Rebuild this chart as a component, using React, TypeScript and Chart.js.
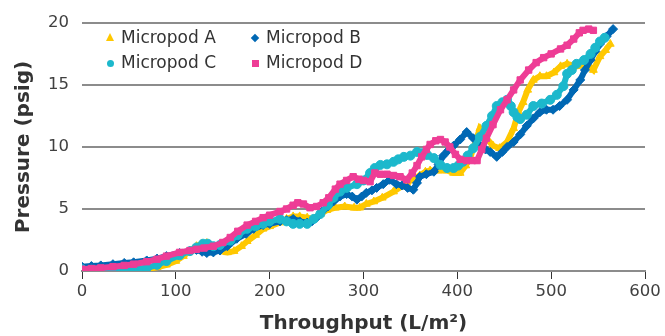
import React, { useEffect, useRef } from "react";
import { Chart, registerables } from "chart.js";

Chart.register(...registerables);

const SERIES_NAMES = ["Micropod A", "Micropod B", "Micropod C", "Micropod D"];
const COLORS = ["#FFC800", "#0068B4", "#1CB8CC", "#EE3D96"];
const X_TICKS = [0, 100, 200, 300, 400, 500, 600];
const Y_TICKS = [0, 5, 10, 15, 20];

const aX = [0, 10, 20, 30, 40, 50, 60, 70, 80, 90, 100, 108, 115, 122, 128, 133, 140, 147, 155, 162, 170, 176, 185, 193, 200, 211, 218, 225, 232, 240, 247, 254, 261, 270, 280, 290, 296, 303, 311, 320, 332, 340, 346, 353, 360, 366, 371, 380, 389, 396, 403, 409, 414, 419, 424, 428, 431, 438, 445, 453, 460, 465, 470, 475, 481, 488, 495, 503, 510, 517, 527, 533, 538, 545, 552, 558, 563];
const aY = [0.0, 0.0, 0.0, 0.05, 0.05, 0.1, 0.1, 0.15, 0.3, 0.5, 0.8, 1.2, 1.6, 2.0, 2.2, 2.25, 1.9, 1.6, 1.5, 1.6, 2.0, 2.4, 2.9, 3.4, 3.6, 3.9, 4.2, 4.4, 4.4, 4.3, 4.2, 4.6, 4.9, 5.1, 5.2, 5.1, 5.1, 5.4, 5.6, 5.9, 6.4, 6.8, 7.1, 7.4, 7.7, 8.0, 8.1, 8.1, 8.1, 7.9, 7.9, 8.5, 9.2, 10.3, 11.5, 11.2, 10.7, 10.1, 9.9, 10.4, 11.5, 12.8, 13.6, 14.6, 15.4, 15.7, 15.7, 16.0, 16.5, 16.7, 16.5, 16.6, 16.7, 16.2, 17.3, 17.8, 18.3];

const bX = [0, 10, 20, 33, 45, 55, 69, 80, 90, 104, 115, 122, 128, 133, 140, 147, 155, 165, 175, 183, 193, 200, 211, 218, 225, 232, 240, 245, 250, 256, 262, 268, 275, 282, 288, 293, 298, 303, 309, 314, 321, 328, 335, 341, 347, 353, 357, 360, 367, 375, 380, 385, 390, 396, 403, 410, 417, 423, 430, 435, 442, 448, 453, 460, 467, 474, 481, 488, 495, 502, 509, 517, 524, 531, 536, 542, 547, 552, 559, 566];
const bY = [0.35, 0.4, 0.45, 0.55, 0.65, 0.7, 0.85, 1.0, 1.2, 1.45, 1.6, 1.7, 1.55, 1.45, 1.5, 1.65, 2.0, 2.6, 3.0, 3.4, 3.7, 3.8, 4.0, 4.1, 4.2, 4.0, 3.9, 4.0, 4.3, 4.8, 5.2, 5.6, 6.0, 6.2, 6.0, 5.75, 6.0, 6.3, 6.5, 6.7, 7.0, 7.35, 7.0, 6.9, 6.7, 6.55, 7.1, 7.6, 7.8, 8.0, 8.6, 9.3, 9.7, 10.1, 10.6, 11.2, 10.7, 10.2, 9.8, 9.6, 9.2, 9.6, 10.0, 10.4, 11.0, 11.7, 12.3, 12.8, 13.0, 13.0, 13.3, 13.8, 14.6, 15.4, 16.2, 17.0, 17.7, 18.3, 18.9, 19.5];

const cX = [0, 10, 20, 33, 45, 55, 69, 80, 90, 104, 115, 122, 129, 134, 140, 147, 158, 166, 176, 185, 193, 200, 211, 218, 225, 232, 240, 247, 254, 262, 268, 275, 282, 293, 300, 307, 312, 318, 325, 332, 337, 343, 350, 357, 362, 368, 375, 382, 389, 396, 401, 406, 411, 417, 424, 431, 437, 442, 448, 453, 457, 460, 464, 467, 474, 481, 490, 499, 506, 513, 517, 522, 527, 535, 542, 547, 552, 557];
const cY = [0.15, 0.1, 0.1, 0.15, 0.2, 0.2, 0.25, 0.5, 0.8, 1.27, 1.6, 1.9, 2.2, 2.2, 2.0, 2.1, 2.45, 2.9, 3.4, 3.6, 3.8, 4.0, 4.2, 4.0, 3.8, 3.8, 3.8, 4.2, 4.6, 5.3, 5.9, 6.4, 6.7, 7.0, 7.3, 7.9, 8.3, 8.55, 8.6, 8.8, 9.0, 9.2, 9.3, 9.6, 9.5, 9.35, 9.1, 8.55, 8.3, 8.3, 8.5, 8.8, 9.3, 9.9, 10.8, 11.7, 12.5, 13.3, 13.6, 13.8, 13.3, 12.8, 12.4, 12.25, 12.6, 13.3, 13.5, 13.8, 14.2, 14.9, 15.9, 16.2, 16.7, 17.0, 17.5, 18.0, 18.5, 18.8];

const dX = [0, 10, 20, 33, 45, 55, 69, 80, 90, 104, 115, 122, 130, 140, 150, 158, 166, 176, 185, 193, 200, 211, 218, 225, 230, 236, 243, 250, 257, 263, 270, 275, 282, 289, 295, 300, 307, 312, 318, 325, 332, 339, 346, 352, 357, 362, 367, 371, 377, 382, 387, 392, 398, 403, 410, 416, 421, 426, 431, 438, 446, 453, 460, 467, 476, 484, 492, 500, 510, 517, 524, 530, 534, 540, 545];
const dY = [0.15, 0.2, 0.25, 0.35, 0.45, 0.55, 0.75, 0.95, 1.2, 1.5, 1.65, 1.75, 1.85, 2.0, 2.3, 2.7, 3.2, 3.7, 4.0, 4.3, 4.5, 4.8, 5.0, 5.3, 5.5, 5.4, 5.1, 5.2, 5.5, 5.9, 6.6, 7.0, 7.3, 7.6, 7.4, 7.3, 7.2, 7.9, 7.8, 7.8, 7.7, 7.6, 7.35, 7.9, 8.5, 9.2, 9.8, 10.2, 10.5, 10.6, 10.4, 10.0, 9.4, 9.0, 8.9, 8.9, 8.9, 9.8, 10.7, 11.8, 13.0, 13.8, 14.6, 15.4, 16.2, 16.8, 17.2, 17.5, 17.9, 18.2, 18.7, 19.2, 19.4, 19.5, 19.4];

const XS = [aX, bX, cX, dX];
const YS = [aY, bY, cY, dY];
const STYLES = ["triangle", "rectRot", "circle", "rect"];

const FONT = "'DejaVu Sans', Verdana, sans-serif";

function LegendMarker({ idx }: { idx: number }) {
  const c = COLORS[idx];
  const base: React.CSSProperties = { position: "absolute", left: 0, top: 0 };
  if (idx === 0)
    return <div style={{ ...base, left: -1, top: -2, width: 0, height: 0, borderLeft: "4px solid transparent", borderRight: "4px solid transparent", borderBottom: `8px solid ${c}` }} />;
  if (idx === 1)
    return <div style={{ ...base, width: 6, height: 6, background: c, transform: "rotate(45deg)", left: 0, top: 0 }} />;
  if (idx === 2)
    return <div style={{ ...base, width: 7, height: 7, background: c, borderRadius: "50%" }} />;
  return <div style={{ ...base, width: 7, height: 7, background: c }} />;
}

export default function App() {
  const ref = useRef<HTMLCanvasElement | null>(null);
  useEffect(() => {
    if (!ref.current) return;
    const datasets = SERIES_NAMES.map((name, i) => ({
      label: name,
      data: XS[i].map((x, k) => ({ x, y: YS[i][k] })),
      showLine: true,
      borderColor: COLORS[i],
      backgroundColor: COLORS[i],
      borderWidth: 6,
      pointStyle: STYLES[i] as any,
      pointRadius: 4.5,
      pointBorderWidth: 1,
      pointBorderColor: COLORS[i],
      pointBackgroundColor: COLORS[i],
      order: 4 - i,
    }));
    const chart = new Chart(ref.current, {
      type: "scatter",
      data: { datasets },
      options: {
        animation: false,
        responsive: true,
        maintainAspectRatio: false,
        layout: { padding: { top: 19, right: 20, left: 0, bottom: 0 } },
        plugins: { legend: { display: false }, tooltip: { enabled: false } },
        scales: {
          x: {
            type: "linear",
            min: 0,
            max: 600,
            afterBuildTicks: (s: any) => { s.ticks = X_TICKS.map((v) => ({ value: v })); },
            afterFit: (s: any) => { s.height = 65; },
            grid: { drawOnChartArea: false, drawTicks: true, tickLength: 8, color: "#333", lineWidth: 1 },
            border: { display: true, color: "#8c8c8c", width: 2 },
            ticks: { color: "#404040", font: { family: FONT, size: 16.5 }, padding: 3 },
            title: { display: true, text: "Throughput (L/m²)", color: "#333", font: { family: FONT, size: 20, weight: "bold" }, padding: { top: 0, bottom: 0 } },
          },
          y: {
            type: "linear",
            min: 0,
            max: 20,
            afterBuildTicks: (s: any) => { s.ticks = Y_TICKS.map((v) => ({ value: v })); },
            afterFit: (s: any) => { s.width = 82; },
            grid: { drawTicks: false, color: "#8c8c8c", lineWidth: 2 },
            border: { display: false },
            ticks: { color: "#404040", font: { family: FONT, size: 16.5 }, padding: 13 },
            title: { display: true, text: "Pressure (psig)", color: "#333", font: { family: FONT, size: 20, weight: "bold" }, padding: { top: 12, bottom: 0 } },
          },
        },
      },
    });
    return () => chart.destroy();
  }, []);

  const legendPos = [
    { left: 107, top: 27 },
    { left: 252, top: 27 },
    { left: 107, top: 52 },
    { left: 252, top: 52 },
  ];

  return (
    <div style={{ position: "fixed", left: 0, top: 0, width: 665, height: 336, background: "#fff" }}>
      <canvas ref={ref} />
      {SERIES_NAMES.map((n, i) => (
        <div key={n} style={{ position: "absolute", left: legendPos[i].left, top: legendPos[i].top, height: 20, fontFamily: FONT, fontSize: 17, color: "#333", lineHeight: "20px", whiteSpace: "nowrap" }}>
          <div style={{ position: "absolute", left: 0, top: 8, width: 8, height: 8 }}>
            <LegendMarker idx={i} />
          </div>
          <span style={{ position: "absolute", left: 14, top: 0 }}>{n}</span>
        </div>
      ))}
    </div>
  );
}
